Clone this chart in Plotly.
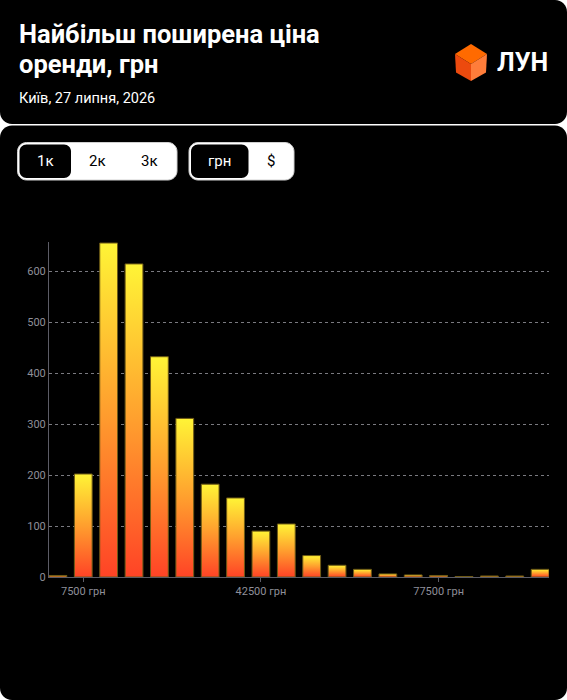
import plotly.graph_objects as go

# ---------------- data ----------------
bin_centers = [2500, 7500, 12500, 17500, 22500, 27500, 32500, 37500, 42500, 47500,
               52500, 57500, 62500, 67500, 72500, 77500, 82500, 87500, 92500, 97500]
counts = [3, 202, 655, 614, 432, 311, 182, 155, 90, 104,
          42, 23, 15, 6, 4, 3, 1, 2, 2, 15]
bin_step = 5000
y_tick_vals = [0, 100, 200, 300, 400, 500, 600]
x_tick_vals = [7500, 42500, 77500]
x_tick_text = ["7500 грн", "42500 грн", "77500 грн"]
title_lines = ["Найбільш поширена ціна", "оренди, грн"]
subtitle = "Київ, 27 липня, 2026"
brand = "ЛУН"
group1 = ["1к", "2к", "3к"]
group2 = ["грн", "$"]

# ---------------- layout geometry (pixels) ----------------
W, H = 567, 700
L, R, T, B = 49, 18, 242, 123
PW, PH = W - L - R, H - T - B


def px(x):
    return (x - L) / PW


def py(y):
    return (H - B - y) / PH


K = 0.5523


def rrect(x0, y0, x1, y1, r, corners=(True, True, True, True)):
    # corners: tl, tr, br, bl ; pixel coords with y downward
    tl, tr, br, bl = corners
    def P(x, y):
        return f"{px(x):.5f},{py(y):.5f}"
    s = ""
    if tl:
        s += f"M{P(x0, y0 + r)} C{P(x0, y0 + r - K * r)} {P(x0 + r - K * r, y0)} {P(x0 + r, y0)} "
    else:
        s += f"M{P(x0, y0)} "
    if tr:
        s += f"L{P(x1 - r, y0)} C{P(x1 - r + K * r, y0)} {P(x1, y0 + r - K * r)} {P(x1, y0 + r)} "
    else:
        s += f"L{P(x1, y0)} "
    if br:
        s += f"L{P(x1, y1 - r)} C{P(x1, y1 - r + K * r)} {P(x1 - r + K * r, y1)} {P(x1 - r, y1)} "
    else:
        s += f"L{P(x1, y1)} "
    if bl:
        s += f"L{P(x0 + r, y1)} C{P(x0 + r - K * r, y1)} {P(x0, y1 - r + K * r)} {P(x0, y1 - r)} "
    else:
        s += f"L{P(x0, y1)} "
    s += "Z"
    return s


def poly(points):
    return "M" + " L".join(f"{px(x):.5f},{py(y):.5f}" for x, y in points) + " Z"


fig = go.Figure()

# bars as gradient-filled polygons
bar_w = bin_step * 0.7
grad = [[0, "#ff4326"], [0.5, "#ff9f2e"], [1, "#fff436"]]
for c, v in zip(bin_centers, counts):
    xs = [c - bar_w / 2, c - bar_w / 2, c + bar_w / 2, c + bar_w / 2, c - bar_w / 2]
    ys = [0, v, v, 0, 0]
    fig.add_trace(go.Scatter(
        x=xs, y=ys, mode="lines", fill="toself",
        line=dict(color="#6e5a16", width=1),
        fillgradient=dict(type="vertical", colorscale=grad),
        hoverinfo="skip", showlegend=False,
    ))

shapes = []
# cards
shapes.append(dict(type="path", xref="paper", yref="paper", layer="below",
                   path=rrect(0, 0, W, 124, 12, (False, True, True, True)),
                   fillcolor="#000000", line=dict(width=0)))
shapes.append(dict(type="path", xref="paper", yref="paper", layer="below",
                   path=rrect(0, 125.5, W, H, 12),
                   fillcolor="#000000", line=dict(width=0)))
# button groups
shapes.append(dict(type="path", xref="paper", yref="paper", layer="above",
                   path=rrect(17.5, 142.5, 177, 180, 9),
                   fillcolor="#ffffff", line=dict(color="#d0d0d0", width=1)))
shapes.append(dict(type="path", xref="paper", yref="paper", layer="above",
                   path=rrect(19.5, 144.5, 71, 178, 7),
                   fillcolor="#000000", line=dict(width=0)))
shapes.append(dict(type="path", xref="paper", yref="paper", layer="above",
                   path=rrect(189, 142.5, 294, 180, 9),
                   fillcolor="#ffffff", line=dict(color="#d0d0d0", width=1)))
shapes.append(dict(type="path", xref="paper", yref="paper", layer="above",
                   path=rrect(191, 144.5, 248.5, 178, 7),
                   fillcolor="#000000", line=dict(width=0)))
# logo cube
top_face = [(471, 44), (487, 54), (471, 64), (455, 54)]
left_face = [(455, 54), (471, 64), (471, 81), (456, 72.5)]
right_face = [(487, 54), (486, 72.5), (471, 81), (471, 64)]
for pts, col in [(top_face, "#ff6a00"), (left_face, "#ec4a0e"), (right_face, "#ff7d3a")]:
    shapes.append(dict(type="path", xref="paper", yref="paper", layer="above",
                       path=poly(pts), fillcolor=col, line=dict(width=0)))

annotations = []
font_family = "Roboto"
annotations.append(dict(text=f"<b>{title_lines[0]}</b>", x=px(16.5), y=py(34), xref="paper", yref="paper",
                        xanchor="left", yanchor="middle", showarrow=False,
                        font=dict(family=font_family, size=25.5, color="#ffffff")))
annotations.append(dict(text=f"<b>{title_lines[1]}</b>", x=px(16.5), y=py(64), xref="paper", yref="paper",
                        xanchor="left", yanchor="middle", showarrow=False,
                        font=dict(family=font_family, size=25.5, color="#ffffff")))
annotations.append(dict(text=subtitle, x=px(16.5), y=py(99), xref="paper", yref="paper",
                        xanchor="left", yanchor="middle", showarrow=False,
                        font=dict(family=font_family, size=14.5, color="#ffffff")))
annotations.append(dict(text=f"<b>{brand}</b>", x=px(495), y=py(62), xref="paper", yref="paper",
                        xanchor="left", yanchor="middle", showarrow=False,
                        font=dict(family=font_family, size=25, color="#ffffff")))
for label, cx, sel in zip(group1, [45, 97, 149], [True, False, False]):
    annotations.append(dict(text=label, x=px(cx), y=py(161), xref="paper", yref="paper",
                            xanchor="center", yanchor="middle", showarrow=False,
                            font=dict(family=font_family, size=15, color="#ffffff" if sel else "#000000")))
for label, cx, sel in zip(group2, [219.5, 271], [True, False]):
    annotations.append(dict(text=label, x=px(cx), y=py(161), xref="paper", yref="paper",
                            xanchor="center", yanchor="middle", showarrow=False,
                            font=dict(family=font_family, size=15, color="#ffffff" if sel else "#000000")))

axis_col = "#5c5c66"
fig.update_layout(
    width=W, height=H,
    margin=dict(l=L, r=R, t=T, b=B, pad=0),
    paper_bgcolor="#ffffff",
    plot_bgcolor="rgba(0,0,0,0)",
    showlegend=False,
    shapes=shapes,
    annotations=annotations,
    font=dict(family=font_family),
    xaxis=dict(
        range=[bin_centers[0] - bar_w / 2, bin_centers[-1] + bar_w / 2],
        showgrid=False, zeroline=False,
        showline=True, linecolor=axis_col, linewidth=1,
        ticks="outside", ticklen=4, tickcolor=axis_col, tickwidth=1,
        tickvals=x_tick_vals, ticktext=x_tick_text,
        tickfont=dict(family=font_family, size=11, color="#8f8f99"),
        fixedrange=True,
    ),
    yaxis=dict(
        range=[0, 657],
        showgrid=True, gridcolor="#7a7a80", gridwidth=1, griddash="dot",
        zeroline=False,
        showline=True, linecolor=axis_col, linewidth=1,
        ticks="", tickvals=y_tick_vals,
        tickfont=dict(family=font_family, size=11, color="#8f8f99"),
        fixedrange=True,
    ),
)

fig.write_html("out.html")
